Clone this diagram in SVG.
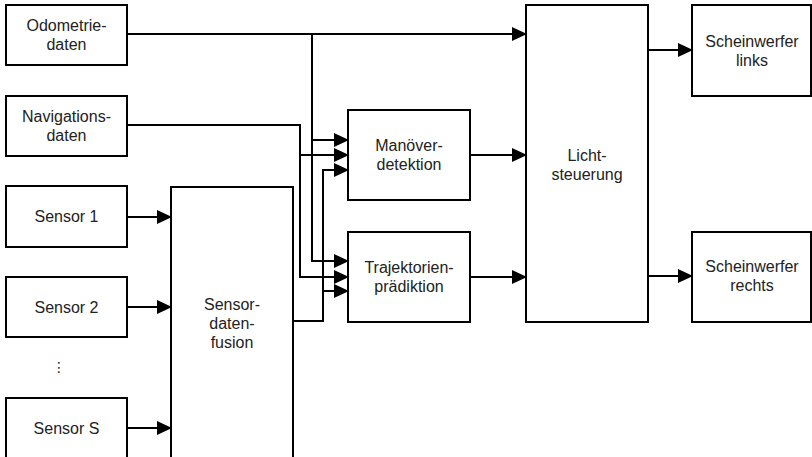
<svg xmlns="http://www.w3.org/2000/svg" width="812" height="457" viewBox="0 0 812 457">
<style>
rect.n{fill:#fff;stroke:#000;stroke-width:2}
text{font-family:"Liberation Sans",Arial,sans-serif;font-size:16px;fill:#222;text-anchor:middle}
path.c{fill:none;stroke:#000;stroke-width:2}
path.a{marker-end:url(#ah)}
</style>
<defs>
<marker id="ah" markerUnits="userSpaceOnUse" markerWidth="15" markerHeight="15" viewBox="0 0 15 15" refX="14" refY="7.5" orient="auto">
<path d="M0,0.5 L15,7.5 L0,14.5 z" fill="#000"/>
</marker>
</defs>
<rect width="812" height="457" fill="#fff"/>
<g id="connectors">
<path class="c a" d="M127,34 H526"/>
<path class="c a" d="M312,34 V261 H348"/>
<path class="c a" d="M312,140 H348"/>
<path class="c a" d="M127,125 H300 V277 H348"/>
<path class="c a" d="M300,155 H348"/>
<path class="c a" d="M293,321 H323 V170 H348"/>
<path class="c a" d="M323,291 H348"/>
<path class="c a" d="M470,155 H526"/>
<path class="c a" d="M470,277 H526"/>
<path class="c a" d="M648,50 H692"/>
<path class="c a" d="M648,276 H692"/>
<path class="c a" d="M127,217 H171"/>
<path class="c a" d="M127,307 H171"/>
<path class="c a" d="M127,428 H171"/>
</g>
<g id="odometrie"><rect class="n" x="6" y="5" width="121" height="60"/><text x="66.5" y="31">Odometrie-</text><text x="66.5" y="50">daten</text></g>
<g id="navigation"><rect class="n" x="6" y="96" width="121" height="60"/><text x="66.5" y="122">Navigations-</text><text x="66.5" y="141">daten</text></g>
<g id="sensor1"><rect class="n" x="6" y="186" width="121" height="61"/><text x="66.5" y="222">Sensor 1</text></g>
<g id="sensor2"><rect class="n" x="6" y="277" width="121" height="60"/><text x="66.5" y="312.5">Sensor 2</text></g>
<g id="dots"><text x="59" y="372" style="font-family:'DejaVu Sans',sans-serif;font-size:14px">⋮</text></g>
<g id="sensorS"><rect class="n" x="6" y="398" width="121" height="64"/><text x="66.5" y="434">Sensor S</text></g>
<g id="fusion"><rect class="n" x="171" y="187" width="122" height="275"/><text x="232" y="309.5">Sensor-</text><text x="232" y="328.5">daten-</text><text x="232" y="347.5">fusion</text></g>
<g id="manoever"><rect class="n" x="348" y="110" width="122" height="90"/><text x="409" y="151">Manöver-</text><text x="409" y="170">detektion</text></g>
<g id="trajektorie"><rect class="n" x="348" y="232" width="122" height="90"/><text x="409" y="273">Trajektorien-</text><text x="409" y="292">prädiktion</text></g>
<g id="licht"><rect class="n" x="526" y="5" width="122" height="317"/><text x="587" y="160.5">Licht-</text><text x="587" y="179.5">steuerung</text></g>
<g id="links"><rect class="n" x="692" y="5" width="119" height="91"/><text x="752" y="47">Scheinwerfer</text><text x="752" y="66">links</text></g>
<g id="rechts"><rect class="n" x="692" y="232" width="119" height="90"/><text x="752" y="272">Scheinwerfer</text><text x="752" y="291">rechts</text></g>
</svg>
